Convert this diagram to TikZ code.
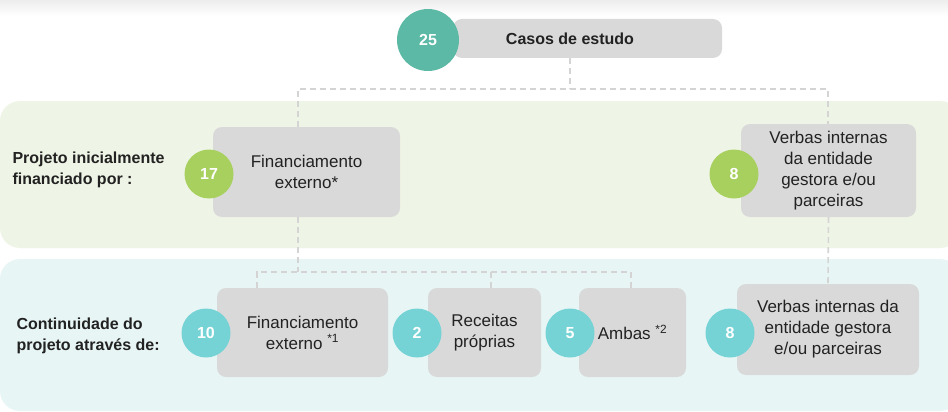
\documentclass[tikz,border=0pt]{standalone}
\usepackage{fontspec}
\setmainfont{Liberation Sans}
\definecolor{bandgreen}{HTML}{EFF5E6}
\definecolor{bandblue}{HTML}{E8F5F5}
\definecolor{boxgray}{HTML}{D9D9D9}
\definecolor{dashgray}{HTML}{D4D4D4}
\definecolor{cteal}{HTML}{5BB9A6}
\definecolor{cgreen}{HTML}{A8D05F}
\definecolor{ccyan}{HTML}{75D3D6}
\definecolor{txt}{HTML}{222222}
\tikzset{
  box/.style={fill=boxgray, rounded corners=9pt, inner sep=0pt, text=txt, font=\fontsize{17}{21}\selectfont, align=center},
  num/.style={circle, inner sep=0pt, minimum size=#1, text=white, font=\fontsize{16}{20}\selectfont\bfseries},
  band/.style={rounded corners=20pt},
  conn/.style={draw=dashgray, line width=1.6pt, dash pattern=on 6pt off 4pt},
  rowlabel/.style={anchor=west, align=left, text=txt, font=\fontsize{16}{21}\selectfont\bfseries},
}
\begin{document}
\begin{tikzpicture}[x=1pt,y=-1pt]
\useasboundingbox (0,0) rectangle (948,412);
\fill[white] (0,0) rectangle (948,412);
\shade[top color=black!7, bottom color=white] (0,0) rectangle (948,16);
% bands
\fill[bandgreen, band] (0,101) rectangle (960,248);
\fill[bandblue, band] (0,259) rectangle (960,411);
% coordinates for connectors
\coordinate (bus1) at (570,89);
\coordinate (c1l) at (298,89);
\coordinate (c1r) at (828,89);
\coordinate (bus2) at (298,272);
\coordinate (c2a) at (257,272);
\coordinate (c2b) at (491,272);
\coordinate (c2c) at (631,272);
% boxes
\node[box, minimum width=269pt, minimum height=39pt] (top) at (587.5,38.5) {};
\node[text=txt, font=\fontsize{16}{20}\selectfont\bfseries] (toptext) at (570,39) {Casos de estudo};
\node[box, minimum width=187pt, minimum height=90pt] (fin1) at (306.5,172) {Financiamento\\externo*};
\node[box, minimum width=175pt, minimum height=93pt] (ver1) at (828.5,170.5) {Verbas internas\\da entidade\\gestora e/ou\\parceiras};
\node[box, minimum width=171pt, minimum height=89pt] (fin2) at (302.5,332.5) {Financiamento\\externo \textsuperscript{*1}};
\node[box, minimum width=113pt, minimum height=89pt] (rec) at (484.5,332.5) {Receitas\\próprias};
\node[box, minimum width=107pt, minimum height=89pt] (amb) at (632.5,332.5) {Ambas \textsuperscript{*2}};
\node[box, minimum width=182pt, minimum height=91pt] (ver2) at (828,329.5) {Verbas internas da\\entidade gestora\\e/ou parceiras};
% connectors
\draw[conn] (top.south -| bus1) -- (bus1);
\draw[conn] (c1l |- fin1.north) -- (c1l) -- (c1r) -- (c1r |- ver1.north);
\draw[conn] (bus2 |- fin1.south) -- (bus2);
\draw[conn] (c2a |- fin2.north) -- (c2a) -- (c2c) -- (c2c |- amb.north);
\draw[conn] (c2b) -- (c2b |- rec.north);
\draw[conn] (ver1.south) -- (ver2.north);
% circles
\node[num=62pt, fill=cteal] (n25) at (428,40) {25};
\node[num=49pt, fill=cgreen] (n17) at (209,174) {17};
\node[num=49pt, fill=cgreen] (n8a) at (734,174) {8};
\node[num=49pt, fill=ccyan] (n10) at (206,333) {10};
\node[num=49pt, fill=ccyan] (n2) at (417,333) {2};
\node[num=49pt, fill=ccyan] (n5) at (570,333) {5};
\node[num=49pt, fill=ccyan] (n8b) at (730,333) {8};
% row labels
\node[rowlabel] (lab1) at (9,170) {Projeto inicialmente\\financiado por :};
\node[rowlabel] (lab2) at (13,336) {Continuidade do\\projeto através de:};
\end{tikzpicture}
\end{document}
